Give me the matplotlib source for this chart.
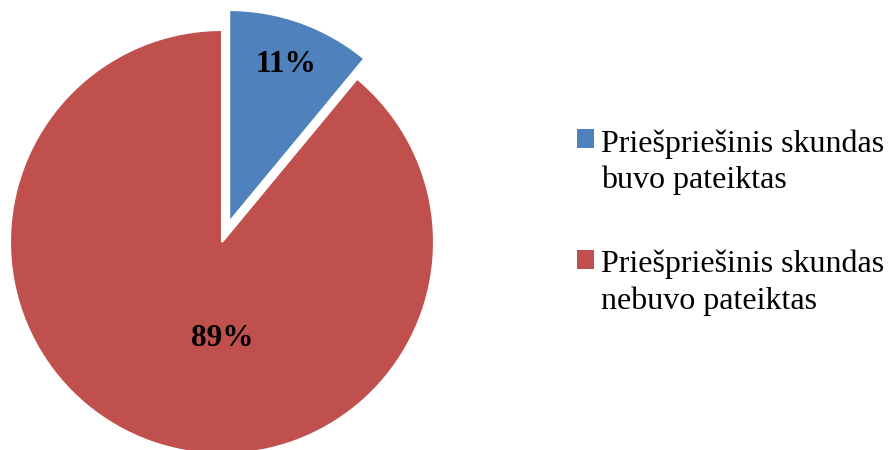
import matplotlib
matplotlib.use("Agg")
import matplotlib.pyplot as plt
from matplotlib.legend_handler import HandlerPatch
from matplotlib.patches import Rectangle

# data
labels = ["Priešpriešinis skundas\nbuvo pateiktas", "Priešpriešinis skundas\nnebuvo pateiktas"]
shares = [11, 89]
colors = ["#4F81BD", "#C0504D"]
explode = [0.1, 0]


# legend square sits next to the first line of a two-line label
class RaisedSquare(HandlerPatch):
    def create_artists(self, legend, orig_handle, xdescent, ydescent, width, height, fontsize, trans):
        p = Rectangle((-xdescent, -ydescent + 16.5), width, height,
                      facecolor=orig_handle.get_facecolor(), edgecolor='none', transform=trans)
        return [p]


plt.rcParams['font.family'] = ['Liberation Serif', 'DejaVu Serif']
fig = plt.figure(figsize=(8.88, 4.5), dpi=100)

r = 212  # pie radius in pixels
ax = fig.add_axes([(222 - 1.2 * r) / 888, (208 - 1.2 * r) / 450, 2.4 * r / 888, 2.4 * r / 450])
wedges, texts, autotexts = ax.pie(shares, explode=explode, colors=colors, startangle=90,
                                  counterclock=False, autopct=lambda p: f'{p:.0f}%',
                                  pctdistance=0.79,
                                  wedgeprops=dict(edgecolor='white', linewidth=1.5),
                                  textprops=dict(fontsize=22.5, fontweight='bold', color='black'))
ax.set_xlim(-1.2, 1.2)
ax.set_ylim(-1.2, 1.2)
ax.axis('off')
autotexts[1].set_position((0, -0.455))

leg = fig.legend(wedges, labels, loc='upper left', bbox_to_anchor=(577 / 888, 1 - 129 / 450),
                 frameon=False, fontsize=23, borderpad=0, borderaxespad=0,
                 handlelength=0.53, handleheight=0.53, handletextpad=0.22, labelspacing=1.7,
                 handler_map={w: RaisedSquare() for w in wedges})
for t in leg.get_texts():
    t.set_linespacing(1.32)

fig.savefig("out.png", dpi=100)
